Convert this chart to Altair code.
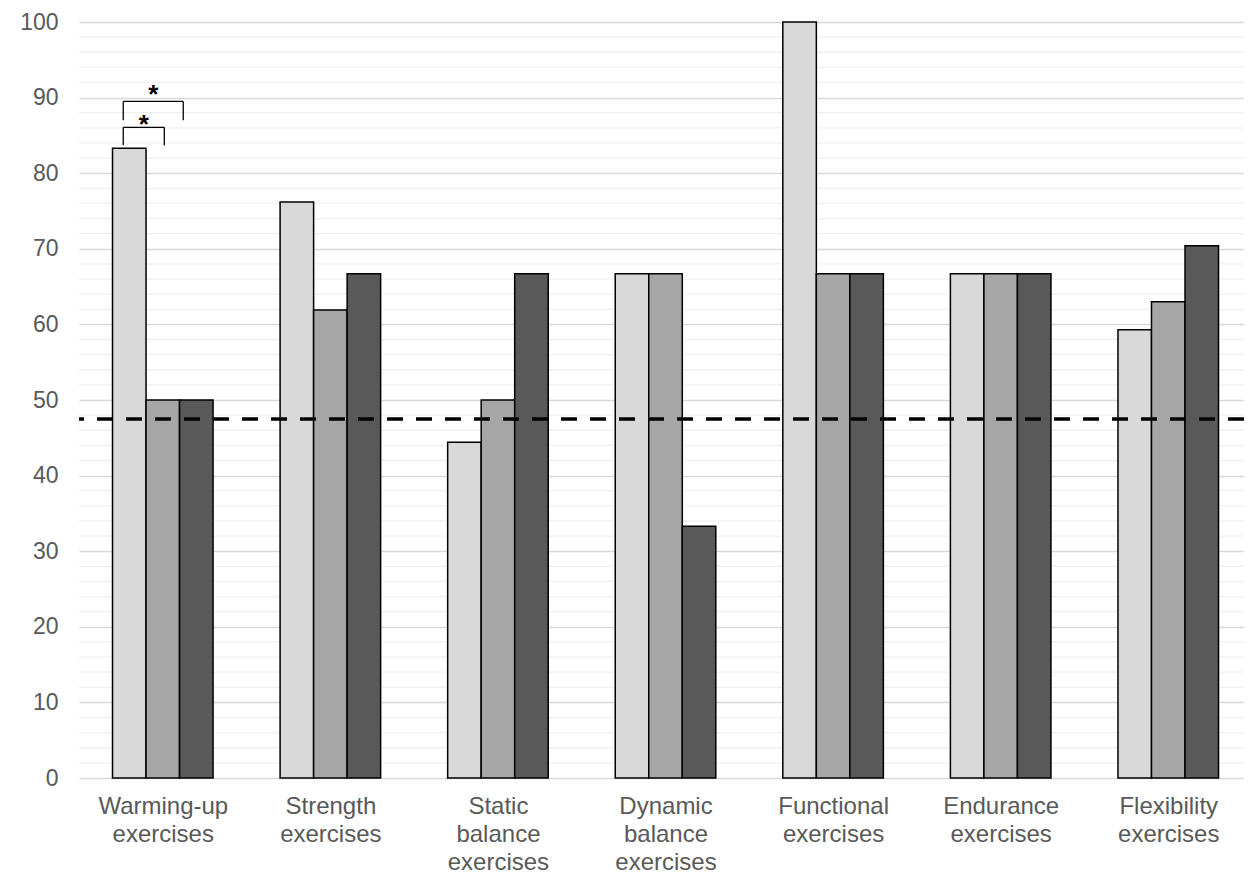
import json
import altair as alt
import pandas as pd

# ---------------- data ----------------
categories = [
    "Warming-up exercises",
    "Strength exercises",
    "Static balance exercises",
    "Dynamic balance exercises",
    "Functional exercises",
    "Endurance exercises",
    "Flexibility exercises",
]
series_names = ["Group 1", "Group 2", "Group 3"]
group1 = [83.3, 76.2, 44.4, 66.7, 100.0, 66.7, 59.3]
group2 = [50.0, 61.9, 50.0, 66.7, 66.7, 66.7, 63.0]
group3 = [50.0, 66.7, 66.7, 33.3, 66.7, 66.7, 70.4]
reference_level = [47.5]
major_ticks = list(range(0, 101, 10))
minor_ticks = [v for v in range(0, 101, 2) if v % 10]

# significance brackets (first category), offsets in category units
bracket_left = [-0.236, -0.236]
bracket_right = [0.009, 0.122]
bracket_top = [86.07, 89.5]
bracket_bottom = [83.69, 87.0]
bracket_label = ["*", "*"]
star_y = [87.26, 91.27]

series_colors = ["#d9d9d9", "#a6a6a6", "#595959"]

# ---------------- tables ----------------
BAR_W = 0.2
rows = []
for i, cat in enumerate(categories):
    for k, (name, vals) in enumerate(zip(series_names, [group1, group2, group3])):
        x0 = i - 1.5 * BAR_W + k * BAR_W
        rows.append({"category": cat, "series": name, "value": vals[i],
                     "x": x0, "x2": x0 + BAR_W})
bars_df = pd.DataFrame(rows)

seg = []
for l, r, t, b in zip(bracket_left, bracket_right, bracket_top, bracket_bottom):
    seg.append({"x": l, "x2": r, "y": t, "y2": t})
    seg.append({"x": l, "x2": l, "y": t, "y2": b})
    seg.append({"x": r, "x2": r, "y": t, "y2": b})
seg_df = pd.DataFrame(seg)
star_df = pd.DataFrame({
    "x": [(l + r) / 2 for l, r in zip(bracket_left, bracket_right)],
    "y": star_y,
    "label": bracket_label,
})
minor_df = pd.DataFrame({"v": minor_ticks})
ref_df = pd.DataFrame({"v": reference_level})

label_lines = json.dumps([c.split(" ") for c in categories])

FONT = "Liberation Sans"
xscale = alt.Scale(domain=[-0.5, len(categories) - 0.548], nice=False, zero=False)
yscale = alt.Scale(domain=[0, 100], nice=False)

x_axis = alt.Axis(
    values=list(range(len(categories))),
    labelExpr=f"{label_lines}[datum.value]",
    title=None, grid=False, domain=False, ticks=False, tickSize=0,
    labelPadding=35, labelBaseline="alphabetic", labelFont=FONT,
    labelFontSize=24, labelColor="#595959", labelLineHeight=28,
    labelAlign="center",
)
y_axis = alt.Axis(
    values=major_ticks, title=None, grid=True, gridColor="#d9d9d9",
    gridWidth=1.3, domain=False, ticks=False, tickSize=0, labelPadding=21,
    labelFont=FONT, labelFontSize=23, labelColor="#595959",
)

minor = alt.Chart(minor_df).mark_rule(color="#f0f0f0", strokeWidth=1.3).encode(
    y=alt.Y("v:Q", scale=yscale, axis=y_axis)
)

bars = alt.Chart(bars_df).mark_bar(stroke="#000000", strokeWidth=1.5).encode(
    x=alt.X("x:Q", scale=xscale, axis=x_axis),
    x2="x2:Q",
    y=alt.Y("value:Q", scale=yscale, axis=y_axis),
    y2=alt.datum(0),
    color=alt.Color("series:N", scale=alt.Scale(domain=series_names, range=series_colors), legend=None),
)

ref = alt.Chart(ref_df).mark_rule(color="#000000", strokeWidth=3.5, strokeDash=[16, 13]).encode(
    y=alt.Y("v:Q", scale=yscale)
)

brackets = alt.Chart(seg_df).mark_rule(color="#000000", strokeWidth=1.3).encode(
    x=alt.X("x:Q", scale=xscale), x2="x2:Q",
    y=alt.Y("y:Q", scale=yscale), y2="y2:Q",
)

stars = alt.Chart(star_df).mark_text(
    font=FONT, fontSize=26, fontWeight="bold", color="#000000",
    baseline="middle", align="center", dy=7
).encode(
    x=alt.X("x:Q", scale=xscale), y=alt.Y("y:Q", scale=yscale), text="label:N"
)

chart = alt.layer(minor, bars, ref, brackets, stars).properties(
    width=1165, height=756,
    autosize=alt.AutoSizeParams(type="none"),
    padding={"left": 71, "top": 14, "right": 0, "bottom": 96},
    background="#ffffff",
).configure_view(stroke=None)

chart.save("out.html", embed_options={"renderer": "svg", "actions": False})
